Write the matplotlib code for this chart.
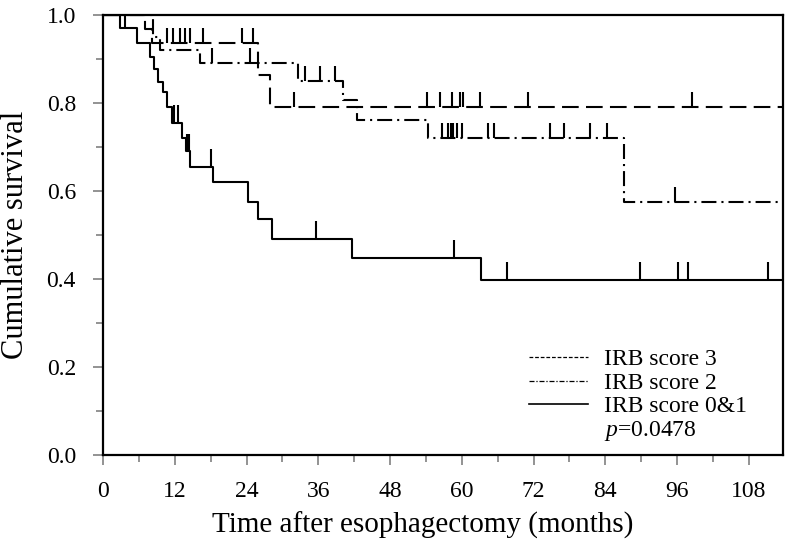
import numpy as np
import matplotlib
matplotlib.use("Agg")
import matplotlib.pyplot as plt
from matplotlib.lines import Line2D

plt.rcParams['font.family'] = ['Liberation Serif', 'DejaVu Serif']
plt.rcParams['mathtext.fontset'] = 'custom'
plt.rcParams['mathtext.rm'] = 'Liberation Serif'
plt.rcParams['mathtext.it'] = 'Liberation Serif:italic'

# ---------------- data ----------------
END_TIME = 113.6

# IRB score 3 (dashed)
irb3_times = [0, 7.0, 8.2, 26.0, 28.0]
irb3_surv = [1.0, 0.968, 0.936, 0.864, 0.790]
irb3_censor = [10.7, 11.7, 12.9, 13.7, 14.5, 16.7, 23.2, 25.1, 32.0, 54.2,
               56.4, 58.3, 59.7, 60.2, 63.0, 71.0, 98.5]

# IRB score 2 (dash-dot)
irb2_times = [0, 8.3, 9.5, 16.2, 32.6, 40.1, 42.5, 54.4, 87.1]
irb2_surv = [1.0, 0.950, 0.920, 0.890, 0.850, 0.807, 0.761, 0.720, 0.576]
irb2_censor = [18.2, 24.6, 33.8, 36.3, 38.8, 56.7, 57.7, 58.2, 58.6, 59.2,
               60.0, 64.4, 65.3, 74.7, 77.0, 81.4, 84.2, 95.6]

# IRB score 0&1 (solid)
irb01_times = [0, 2.8, 5.7, 7.9, 8.6, 9.2, 10.0, 10.7, 11.5, 13.2, 13.8,
               14.5, 18.4, 24.3, 25.9, 28.3, 41.7, 63.2]
irb01_surv = [1.0, 0.970, 0.936, 0.905, 0.878, 0.848, 0.825, 0.790, 0.755,
              0.720, 0.690, 0.655, 0.620, 0.575, 0.536, 0.491, 0.448, 0.398]
irb01_censor = [3.7, 11.9, 12.5, 14.0, 14.3, 18.1, 35.6, 58.7, 67.5, 89.8,
                96.2, 97.8, 111.2]

labels = ['IRB score 3', 'IRB score 2', 'IRB score 0&1']
p_text = '$p$=0.0478'

x_ticks = [0, 12, 24, 36, 48, 60, 72, 84, 96, 108]
y_ticks = [0.0, 0.2, 0.4, 0.6, 0.8, 1.0]

# ---------------- figure ----------------
fig = plt.figure(figsize=(7.86, 5.43), dpi=100)
ax = fig.add_axes([103 / 786, 88 / 543, 680 / 786, 440 / 543])

LW = 1.5
dash_style = (0, (8, 3.5))
dashdot_style = (0, (7.2, 2.4, 1.0, 2.4))


def km(ax, times, surv, censor, ls, tick_h):
    t = list(times) + [END_TIME]
    s = list(surv) + [surv[-1]]
    ax.step(t, s, where='post', color='black', lw=LW, linestyle=ls,
            solid_capstyle='butt', dash_capstyle='butt')
    idx = np.searchsorted(np.array(times), np.array(censor), side='right') - 1
    cy = np.array(surv)[idx]
    ax.vlines(censor, cy, cy + tick_h, color='black', lw=LW)


km(ax, irb3_times, irb3_surv, irb3_censor, dash_style, 0.034)
km(ax, irb2_times, irb2_surv, irb2_censor, dashdot_style, 0.034)
km(ax, irb01_times, irb01_surv, irb01_censor, '-', 0.040)

ax.set_xlim(0, END_TIME + 0.1)
ax.set_ylim(0, 1.0)
ax.set_xticks(x_ticks)
ax.set_xticks(np.arange(6, END_TIME, 12), minor=True)
ax.set_yticks(y_ticks)
ax.set_yticks(np.arange(0.1, 1.0, 0.2), minor=True)
ax.set_yticklabels([f'{v:.1f}' for v in y_ticks])
ax.tick_params(axis='both', which='major', direction='out', length=7.5,
               width=1.3, color='#8a8a8a', labelsize=17)
ax.tick_params(axis='both', which='minor', direction='out', length=5,
               width=1.3, color='#8a8a8a')
ax.tick_params(axis='x', which='major', pad=11)
ax.tick_params(axis='y', which='major', pad=12)
for sp in ax.spines.values():
    sp.set_linewidth(1.6)
    sp.set_color('black')

ax.set_xlabel('Time after esophagectomy (months)', fontsize=21, labelpad=4)
ax.set_ylabel('Cumulative survival', fontsize=22, labelpad=12)
ax.xaxis.set_label_coords(0.47, -0.13)

handles = [
    Line2D([], [], color='black', lw=0.9, linestyle=(0, (3, 1.5))),
    Line2D([], [], color='black', lw=0.9, linestyle=(0, (4, 1.5, 1, 1.5))),
    Line2D([], [], color='black', lw=1.2, linestyle='-'),
    Line2D([], [], color='none', lw=0),
]
leg = ax.legend(handles, labels + [p_text], loc='lower right',
                bbox_to_anchor=(0.965, 0.0), frameon=False, fontsize=17,
                handlelength=2.5, handletextpad=0.7, labelspacing=0.08,
                borderaxespad=0.1)

fig.savefig('out.png', dpi=100)
